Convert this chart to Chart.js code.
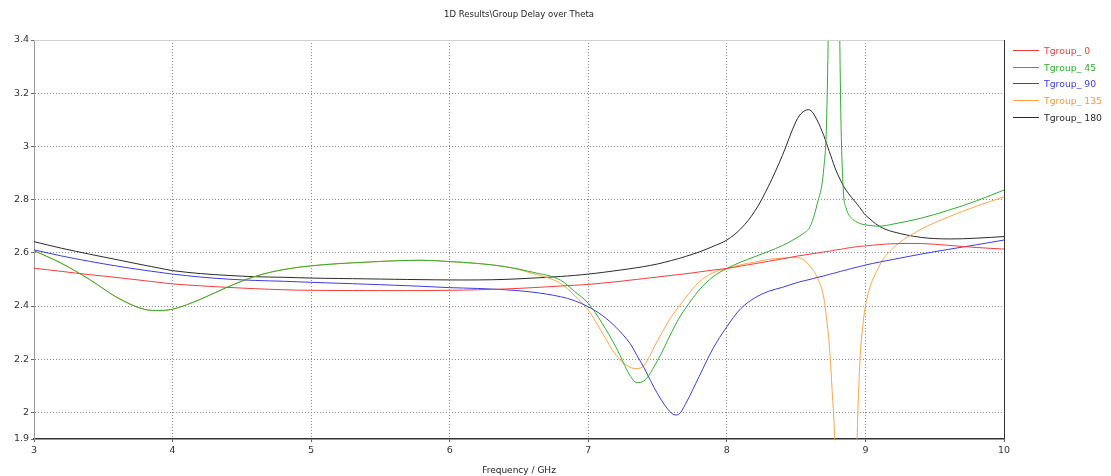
<!DOCTYPE html>
<html>
<head>
<meta charset="utf-8">
<script src="https://cdn.jsdelivr.net/npm/chart.js@4.4.1/dist/chart.umd.min.js"></script>
<style>
  html, body { margin: 0; padding: 0; background: #fff; }
  #wrap { position: relative; width: 1111px; height: 476px; font-family: "DejaVu Sans", Verdana, sans-serif; }
  #title { position: absolute; left: 0; width: 1038px; top: 9px; text-align: center; font-size: 8.5px; color: #222; }
  #legend { position: absolute; left: 1013px; top: 42px; font-size: 9.3px; }
  .item { height: 16.7px; display: flex; align-items: center; white-space: nowrap; }
  .item .swatch { display: inline-block; width: 26px; height: 1px; margin-right: 5px; }
</style>
</head>
<body>
<div id="wrap">
  <canvas id="groupDelayChart" width="1111" height="476"></canvas>
  <div id="title">1D Results\Group Delay over Theta</div>
  <div id="legend"></div>
</div>
<script>
// frequency points (GHz), denser around the resonances
const freq = [3.0,3.2,3.4,3.6,3.8,3.9,4.0,4.2,4.4,4.6,
  4.8,5.0,5.4,5.8,6.0,6.2,6.4,6.6,6.8,6.9,
  7.0,7.1,7.2,7.3,7.35,7.4,7.5,7.6,7.65,7.7,
  7.8,7.9,8.0,8.1,8.2,8.3,8.4,8.5,8.55,8.6,
  8.65,8.7,8.72,8.74,8.76,8.78,8.8,8.82,8.84,8.86,
  8.9,8.94,8.96,8.98,9.0,9.1,9.2,9.4,9.6,9.8,10.0];

const tgroup0 = [2.542,2.530,2.518,2.507,2.495,2.489,2.483,2.476,2.470,2.465,
  2.461,2.459,2.458,2.458,2.459,2.461,2.464,2.469,2.475,2.478,
  2.481,2.486,2.491,2.497,2.500,2.503,2.509,2.515,2.518,2.521,
  2.528,2.535,2.541,2.550,2.559,2.568,2.577,2.587,2.591,2.595,
  2.599,2.603,2.605,2.606,2.608,2.610,2.612,2.613,2.615,2.617,
  2.620,2.623,2.624,2.625,2.626,2.631,2.634,2.635,2.628,2.620,2.614];

const tgroup45 = [2.608,2.560,2.500,2.432,2.387,2.383,2.388,2.425,2.472,2.512,
  2.537,2.551,2.565,2.572,2.567,2.560,2.548,2.527,2.497,2.455,
  2.410,2.335,2.245,2.140,2.112,2.118,2.195,2.300,2.350,2.390,
  2.460,2.510,2.541,2.565,2.585,2.605,2.627,2.655,2.672,2.698,
  2.780,2.920,3.100,3.700,4.500,5.000,4.200,3.200,2.840,2.770,
  2.730,2.715,2.710,2.707,2.705,2.700,2.708,2.730,2.760,2.795,2.836];

const tgroup90 = [2.611,2.588,2.568,2.550,2.534,2.527,2.520,2.509,2.501,2.496,
  2.493,2.489,2.482,2.474,2.469,2.466,2.461,2.452,2.435,2.420,
  2.397,2.365,2.320,2.260,2.215,2.170,2.070,1.997,1.992,2.030,
  2.135,2.240,2.322,2.390,2.430,2.455,2.470,2.487,2.494,2.500,
  2.507,2.513,2.516,2.519,2.522,2.524,2.527,2.530,2.533,2.535,
  2.541,2.546,2.549,2.551,2.554,2.565,2.575,2.595,2.613,2.630,2.648];

const tgroup135 = [2.608,2.560,2.500,2.432,2.387,2.383,2.388,2.425,2.472,2.512,
  2.537,2.551,2.565,2.572,2.567,2.560,2.548,2.522,2.485,2.440,
  2.385,2.300,2.215,2.170,2.165,2.175,2.270,2.360,2.395,2.430,
  2.490,2.525,2.541,2.555,2.565,2.575,2.580,2.582,2.575,2.550,
  2.510,2.430,2.350,2.250,2.080,1.880,1.500,1.000,0.500,0.200,
  0.800,1.900,2.190,2.320,2.400,2.550,2.617,2.688,2.735,2.775,2.810];

const tgroup180 = [2.642,2.617,2.595,2.574,2.553,2.543,2.533,2.522,2.515,2.510,
  2.508,2.505,2.502,2.499,2.498,2.498,2.500,2.505,2.511,2.515,
  2.520,2.526,2.533,2.540,2.544,2.548,2.558,2.571,2.578,2.586,
  2.603,2.624,2.648,2.690,2.755,2.850,2.965,3.095,3.130,3.137,
  3.100,3.040,3.010,2.980,2.950,2.920,2.895,2.873,2.853,2.836,
  2.808,2.783,2.770,2.755,2.742,2.700,2.679,2.658,2.652,2.655,2.661];

const seriesNames = ['Tgroup_ 0', 'Tgroup_ 45', 'Tgroup_ 90', 'Tgroup_ 135', 'Tgroup_ 180'];
const seriesColors = ['#f03c3c', '#2fae2f', '#3c3cdc', '#ffa447', '#2a2a2a'];
const legendTextColors = ['#f03c3c', '#2fae2f', '#3c3cdc', '#f59a3a', '#2a2a2a'];
const xTicks = [3, 4, 5, 6, 7, 8, 9, 10];
const yTicks = [1.9, 2, 2.2, 2.4, 2.6, 2.8, 3, 3.2, 3.4];

const allSeries = [tgroup0, tgroup45, tgroup90, tgroup135, tgroup180];
// the resonant curves need monotone interpolation, the smooth ones a plain bezier
const monotoneSeries = [false, true, false, true, false];

const datasets = allSeries.map((vals, i) => ({
  label: seriesNames[i],
  data: freq.map((f, j) => ({ x: f, y: vals[j] })),
  borderColor: seriesColors[i],
  borderWidth: 1,
  pointRadius: 0,
  tension: 0.35,
  cubicInterpolationMode: monotoneSeries[i] ? 'monotone' : 'default',
  fill: false
}));

// frame: light top edge, dark right edge
const framePlugin = {
  id: 'frame',
  afterDraw(chart) {
    const { ctx, chartArea: a } = chart;
    ctx.save();
    ctx.lineWidth = 1;
    ctx.strokeStyle = '#d0d0d0';
    ctx.beginPath();
    ctx.moveTo(a.left, a.top + 0.5);
    ctx.lineTo(a.right, a.top + 0.5);
    ctx.stroke();
    ctx.strokeStyle = '#333';
    ctx.beginPath();
    ctx.moveTo(a.right + 0.5, a.top);
    ctx.lineTo(a.right + 0.5, a.bottom);
    ctx.stroke();
    ctx.restore();
  }
};

const tickFont = { family: '"DejaVu Sans", Verdana, sans-serif', size: 9.5 };

new Chart(document.getElementById('groupDelayChart'), {
  type: 'line',
  data: { datasets },
  plugins: [framePlugin],
  options: {
    responsive: false,
    animation: false,
    layout: { padding: { top: 40, right: 107, left: 0, bottom: 0 } },
    plugins: { legend: { display: false }, title: { display: false }, tooltip: { enabled: false } },
    scales: {
      x: {
        type: 'linear',
        min: 3,
        max: 10,
        afterBuildTicks: (scale) => { scale.ticks = xTicks.map(v => ({ value: v })); },
        afterFit: (scale) => { scale.height = 37; },
        ticks: { color: '#333', font: tickFont, padding: 3, maxRotation: 0, callback: (v) => String(v) },
        grid: {
          color: (c) => (c.tick && (c.tick.value === 3 || c.tick.value === 10)) ? 'rgba(0,0,0,0)' : '#8a8a8a',
          lineWidth: 1,
          drawTicks: true,
          tickLength: 3,
          tickColor: '#666'
        },
        border: { display: true, color: '#333', width: 1.5, dash: [1, 2] },
        title: {
          display: true,
          text: 'Frequency / GHz',
          color: '#222',
          font: { family: '"DejaVu Sans", Verdana, sans-serif', size: 9 },
          padding: { top: 3, bottom: 0 }
        }
      },
      y: {
        min: 1.9,
        max: 3.4,
        afterBuildTicks: (scale) => { scale.ticks = yTicks.map(v => ({ value: v })); },
        afterFit: (scale) => { scale.width = 34; },
        ticks: { color: '#333', font: tickFont, padding: 2, callback: (v) => String(v) },
        grid: {
          color: (c) => (c.tick && (c.tick.value === 1.9 || c.tick.value === 3.4)) ? 'rgba(0,0,0,0)' : '#8a8a8a',
          lineWidth: 1,
          drawTicks: true,
          tickLength: 3,
          tickColor: '#666'
        },
        border: { display: true, color: '#999', width: 1, dash: [1, 2] }
      }
    }
  }
});

// legend
const legendEl = document.getElementById('legend');
seriesNames.forEach((name, i) => {
  const row = document.createElement('div');
  row.className = 'item';
  row.innerHTML = `<span class="swatch" style="background:${seriesColors[i]}"></span><span style="color:${legendTextColors[i]}">${name}</span>`;
  legendEl.appendChild(row);
});
</script>
</body>
</html>
